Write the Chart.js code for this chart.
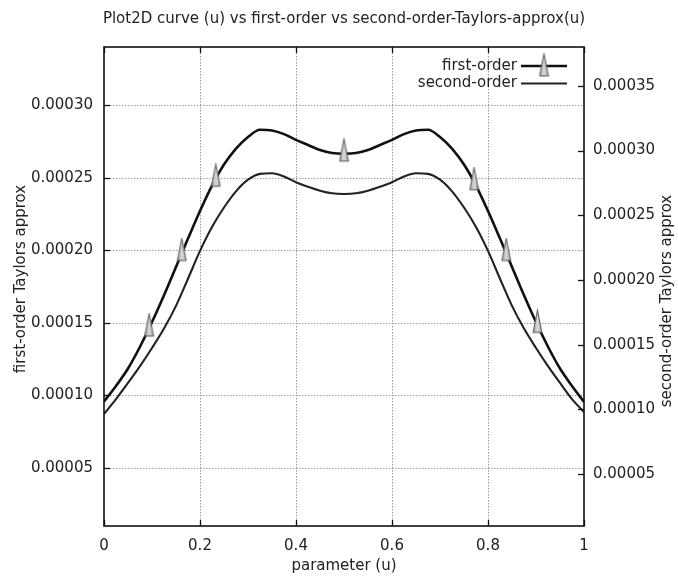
<!DOCTYPE html>
<html>
<head>
<meta charset="utf-8">
<script src="https://cdn.jsdelivr.net/npm/chart.js@4.4.1/dist/chart.umd.min.js"></script>
<style>
  html, body { margin: 0; padding: 0; background: #fff; }
  #wrap { width: 678px; height: 581px; }
</style>
</head>
<body>
<div id="wrap"><canvas id="myChart" width="678" height="581"></canvas></div>
<script>
const chartTitle = 'Plot2D curve (u) vs first-order vs second-order-Taylors-approx(u)';
const xTitle = 'parameter (u)';
const yTitle = 'first-order Taylors approx';
const y2Title = 'second-order Taylors approx';

const uValues = [0, 0.025, 0.05, 0.075, 0.1, 0.125, 0.15, 0.175, 0.2, 0.225, 0.25, 0.275, 0.3, 0.325, 0.35, 0.375, 0.4, 0.425, 0.45, 0.475, 0.5,
    0.525, 0.55, 0.575, 0.6, 0.625, 0.65, 0.675, 0.7, 0.725, 0.75, 0.775, 0.8, 0.825, 0.85, 0.875, 0.9, 0.925, 0.95, 0.975, 1];

const firstOrder = [0.0000958, 0.0001065, 0.0001185, 0.0001335, 0.0001505, 0.000169, 0.0001885, 0.000208, 0.000227, 0.0002445, 0.000259,
    0.00027, 0.000278, 0.000283, 0.0002825, 0.00028, 0.000276, 0.0002725, 0.000269, 0.000267, 0.0002665,
    0.000267, 0.000269, 0.0002725, 0.000276, 0.00028, 0.0002825, 0.000283, 0.000278, 0.00027, 0.000259,
    0.0002445, 0.000227, 0.000208, 0.0001885, 0.000169, 0.0001505, 0.0001335, 0.0001185, 0.0001065, 0.0000955];

const secondOrder = [0.0000965, 0.000108, 0.0001205, 0.0001335, 0.0001475, 0.0001625, 0.00018, 0.000201, 0.0002225, 0.000241, 0.000256,
    0.0002685, 0.0002775, 0.000282, 0.0002825, 0.00028, 0.0002755, 0.000272, 0.000269, 0.000267, 0.0002665,
    0.000267, 0.000269, 0.000272, 0.0002755, 0.00028, 0.0002825, 0.000282, 0.0002775, 0.0002685, 0.000256,
    0.000241, 0.0002225, 0.000201, 0.00018, 0.0001625, 0.0001475, 0.0001335, 0.0001205, 0.000108, 0.000098];

// triangles sit on the first-order curve
const markerU = [0.094, 0.162, 0.233, 0.5, 0.771, 0.838, 0.903];
const markerFirstOrder = [0.000146, 0.000198, 0.0002492, 0.0002665, 0.0002468, 0.000198, 0.0001485];

const xTicks = [0, 0.2, 0.4, 0.6, 0.8, 1];
const yTicks = [0.00005, 0.0001, 0.00015, 0.0002, 0.00025, 0.0003];
const y2Ticks = [0.00005, 0.0001, 0.00015, 0.0002, 0.00025, 0.0003, 0.00035];

const FONT = 'DejaVu Sans';
const TXT = '#222';

// tall gnuplot-ish triangle, centroid in the middle of the image
function triangleMarker() {
    const c = document.createElement('canvas');
    c.width = 11; c.height = 31;
    const g = c.getContext('2d');
    const grad = g.createLinearGradient(0, 0, 11, 0);
    grad.addColorStop(0, '#9a9a9a');
    grad.addColorStop(0.5, '#d8d8d8');
    grad.addColorStop(1, '#a8a8a8');
    g.beginPath();
    g.moveTo(5.5, 0.8);
    g.lineTo(9.8, 22.8);
    g.lineTo(1.2, 22.8);
    g.closePath();
    g.fillStyle = grad;
    g.fill();
    g.strokeStyle = '#6a6a6a';
    g.lineWidth = 1.2;
    g.stroke();
    return c;
}
const tri = triangleMarker();

const decorations = {
    id: 'decorations',
    beforeDatasetsDraw(chart) {
        const { ctx, chartArea: a, scales } = chart;
        ctx.save();
        ctx.strokeStyle = '#9c9c9c';
        ctx.lineWidth = 1;
        ctx.setLineDash([1.5, 1.5]);
        scales.x.ticks.forEach(t => {
            const px = Math.round(scales.x.getPixelForValue(t.value)) + 0.5;
            if (px <= a.left + 2 || px >= a.right - 2) return;
            ctx.beginPath(); ctx.moveTo(px, a.top); ctx.lineTo(px, a.bottom); ctx.stroke();
        });
        scales.y.ticks.forEach(t => {
            const py = Math.round(scales.y.getPixelForValue(t.value)) + 0.5;
            ctx.beginPath(); ctx.moveTo(a.left, py); ctx.lineTo(a.right, py); ctx.stroke();
        });
        ctx.restore();
    },
    afterDatasetsDraw(chart) {
        const { ctx, chartArea: a, scales } = chart;
        ctx.save();
        ctx.strokeStyle = '#111';
        ctx.lineWidth = 1.6;
        ctx.strokeRect(a.left, a.top, a.right - a.left, a.bottom - a.top);

        // inward ticks
        ctx.lineWidth = 1.3;
        const tl = 6;
        scales.x.ticks.forEach(t => {
            const px = Math.round(scales.x.getPixelForValue(t.value)) + 0.5;
            ctx.beginPath();
            ctx.moveTo(px, a.bottom); ctx.lineTo(px, a.bottom - tl);
            ctx.moveTo(px, a.top); ctx.lineTo(px, a.top + tl);
            ctx.stroke();
        });
        scales.y.ticks.forEach(t => {
            const py = Math.round(scales.y.getPixelForValue(t.value)) + 0.5;
            ctx.beginPath(); ctx.moveTo(a.left, py); ctx.lineTo(a.left + tl, py); ctx.stroke();
        });
        scales.y2.ticks.forEach(t => {
            const py = Math.round(scales.y2.getPixelForValue(t.value)) + 0.5;
            ctx.beginPath(); ctx.moveTo(a.right, py); ctx.lineTo(a.right - tl, py); ctx.stroke();
        });

        // titles
        ctx.fillStyle = TXT;
        ctx.font = '15px "' + FONT + '"';
        ctx.textAlign = 'center';
        ctx.textBaseline = 'middle';
        const cx = (a.left + a.right) / 2;
        ctx.fillText(chartTitle, cx, 19);
        ctx.fillText(xTitle, cx, a.bottom + 40);
        ctx.save();
        ctx.translate(21, 279);
        ctx.rotate(-Math.PI / 2);
        ctx.fillText(yTitle, 0, 0);
        ctx.restore();
        ctx.save();
        ctx.translate(667, 301);
        ctx.rotate(-Math.PI / 2);
        ctx.fillText(y2Title, 0, 0);
        ctx.restore();

        // key, top right inside the frame
        const keyX = a.right - 67, rowH = 17.5, row0 = a.top + 19;
        ctx.textAlign = 'right';
        chart.data.datasets.filter(d => d.inKey).forEach((d, i) => {
            const y = row0 + i * rowH;
            ctx.fillStyle = TXT;
            ctx.fillText(d.label, keyX, y);
            ctx.strokeStyle = d.borderColor;
            ctx.lineWidth = d.borderWidth;
            ctx.beginPath(); ctx.moveTo(keyX + 4, y); ctx.lineTo(keyX + 50, y); ctx.stroke();
            if (d.keyMarker) ctx.drawImage(tri, keyX + 27 - 5.5, y - 13);
        });
        ctx.restore();
    }
};

const ctx = document.getElementById('myChart').getContext('2d');
new Chart(ctx, {
    type: 'line',
    data: {
        datasets: [
            {
                label: 'markers',
                data: markerU.map((u, i) => ({ x: u, y: markerFirstOrder[i] })),
                yAxisID: 'y',
                showLine: false,
                pointStyle: tri,
                pointRadius: 6,
                order: -1,
            },
            {
                label: 'first-order',
                inKey: true,
                keyMarker: true,
                data: uValues.map((u, i) => ({ x: u, y: firstOrder[i] })),
                yAxisID: 'y',
                borderColor: '#111',
                borderWidth: 2.6,
                pointRadius: 0,
                cubicInterpolationMode: 'monotone',
            },
            {
                label: 'second-order',
                inKey: true,
                data: uValues.map((u, i) => ({ x: u, y: secondOrder[i] })),
                yAxisID: 'y2',
                borderColor: '#222',
                borderWidth: 2.1,
                pointRadius: 0,
                cubicInterpolationMode: 'monotone',
            },
        ],
    },
    options: {
        responsive: false,
        animation: false,
        devicePixelRatio: 1,
        layout: { padding: { top: 47 } },
        plugins: { legend: { display: false }, tooltip: { enabled: false }, title: { display: false } },
        scales: {
            x: {
                type: 'linear', min: 0, max: 1,
                afterBuildTicks: s => { s.ticks = xTicks.map(v => ({ value: v })); },
                afterFit: s => { s.height = 55; },
                grid: { display: false, drawTicks: false },
                border: { display: false },
                ticks: { padding: 11, color: TXT, font: { family: FONT, size: 15 }, maxRotation: 0, callback: v => String(v) },
            },
            y: {
                position: 'left', min: 0.00001, max: 0.00034,
                afterBuildTicks: s => { s.ticks = yTicks.map(v => ({ value: v })); },
                afterFit: s => { s.width = 104; },
                grid: { display: false, drawTicks: false },
                border: { display: false },
                ticks: { padding: 11, color: TXT, font: { family: FONT, size: 15 }, callback: v => v.toFixed(5) },
            },
            y2: {
                position: 'right', min: 0.00001, max: 0.00038,
                afterBuildTicks: s => { s.ticks = y2Ticks.map(v => ({ value: v })); },
                afterFit: s => { s.width = 94; },
                grid: { display: false, drawTicks: false },
                border: { display: false },
                ticks: { padding: 9, color: TXT, font: { family: FONT, size: 15 }, callback: v => v.toFixed(5) },
            },
        },
    },
    plugins: [decorations],
});
</script>
</body>
</html>
